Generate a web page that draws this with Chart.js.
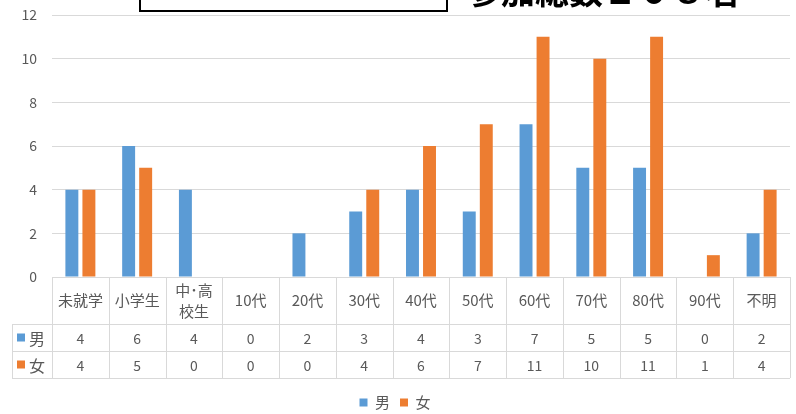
<!DOCTYPE html>
<html>
<head>
<meta charset="utf-8">
<script src="https://cdn.jsdelivr.net/npm/chart.js@4"></script>
<style>
html,body{margin:0;padding:0;background:#fff;}
#wrap{width:796px;height:414px;position:relative;}
</style>
</head>
<body>
<div id="wrap"><canvas id="c" width="796" height="414"></canvas></div>
<script>
const categories = ['未就学', '小学生', ['中･高', '校生'], '10代', '20代', '30代', '40代', '50代', '60代', '70代', '80代', '90代', '不明'];
const maleValues = [4, 6, 4, 0, 2, 3, 4, 3, 7, 5, 5, 0, 2];
const femaleValues = [4, 5, 0, 0, 0, 4, 6, 7, 11, 10, 11, 1, 4];
const seriesNames = ['男', '女'];
const yTickMin = 0, yTickMax = 12, yTickStep = 2;
const titleText = '参加総数１０８名';

const BLUE = '#5B9BD5', ORANGE = '#ED7D31', GRID = '#d9d9d9', TXT = '#595959';
const FONT = '"Noto Sans CJK JP", "Noto Sans", sans-serif';

const tablePlugin = {
  id: 'dataTable',
  afterDraw(chart) {
    const ctx = chart.ctx;
    const area = chart.chartArea;
    const xs = chart.scales.x;
    const n = categories.length;
    const colW = (area.right - area.left) / n;
    const top = area.bottom;
    const r1 = top + 47, r2 = r1 + 27, r3 = r2 + 27;
    const tableLeft = 12;
    ctx.save();
    ctx.strokeStyle = GRID;
    ctx.lineWidth = 1;
    ctx.beginPath();
    ctx.moveTo(area.left, top + 0.5); ctx.lineTo(area.right, top + 0.5);
    [r1, r2, r3].forEach(y => { ctx.moveTo(tableLeft, y + 0.5); ctx.lineTo(area.right, y + 0.5); });
    for (let i = 0; i <= n; i++) {
      const x = Math.round(area.left + i * colW) + 0.5;
      ctx.moveTo(x, top); ctx.lineTo(x, r3);
    }
    ctx.moveTo(tableLeft + 0.5, r1); ctx.lineTo(tableLeft + 0.5, r3);
    ctx.stroke();

    ctx.fillStyle = TXT;
    ctx.textAlign = 'center';
    ctx.textBaseline = 'middle';
    ctx.font = '15px ' + FONT;
    categories.forEach((c, i) => {
      const cx = xs.getPixelForValue(i);
      if (Array.isArray(c)) {
        ctx.fillText(c[0], cx, top + 13);
        ctx.fillText(c[1], cx, top + 34);
      } else {
        ctx.fillText(c, cx, top + 23.5);
      }
    });
    ctx.font = '14px ' + FONT;
    maleValues.forEach((v, i) => ctx.fillText(String(v), xs.getPixelForValue(i), (r1 + r2) / 2 + 1));
    femaleValues.forEach((v, i) => ctx.fillText(String(v), xs.getPixelForValue(i), (r2 + r3) / 2 + 1));
    // row keys
    ctx.fillStyle = BLUE; ctx.fillRect(17, (r1 + r2) / 2 - 4, 8, 8);
    ctx.fillStyle = ORANGE; ctx.fillRect(17, (r2 + r3) / 2 - 4, 8, 8);
    ctx.fillStyle = TXT;
    ctx.textAlign = 'left';
    ctx.font = '16px ' + FONT;
    ctx.fillText(seriesNames[0], 29, (r1 + r2) / 2 + 1);
    ctx.fillText(seriesNames[1], 29, (r2 + r3) / 2 + 1);

    // cut-off title area
    ctx.strokeStyle = '#000';
    ctx.lineWidth = 2;
    ctx.strokeRect(140, -40, 307, 51);
    ctx.fillStyle = '#000';
    ctx.font = 'bold 34px ' + FONT;
    ctx.textBaseline = 'ideographic';
    ctx.textAlign = 'left';
    ctx.fillText(titleText, 467, 8);
    ctx.restore();
  }
};

new Chart(document.getElementById('c'), {
  type: 'bar',
  data: {
    labels: categories,
    datasets: [
      { label: seriesNames[0], data: maleValues, backgroundColor: BLUE, categoryPercentage: 0.6, barPercentage: 0.76 },
      { label: seriesNames[1], data: femaleValues, backgroundColor: ORANGE, categoryPercentage: 0.6, barPercentage: 0.76 }
    ]
  },
  options: {
    responsive: false,
    animation: false,
    layout: { padding: { left: 0, right: 6, top: 15, bottom: -6 } },
    plugins: {
      legend: {
        position: 'bottom',
        labels: { boxWidth: 8, boxHeight: 8, color: TXT, font: { size: 15, family: FONT }, padding: 10 }
      },
      tooltip: { enabled: false }
    },
    scales: {
      x: {
        grid: { display: false },
        border: { display: false },
        ticks: { display: false },
        afterFit(s) { s.height = 108; }
      },
      y: {
        min: yTickMin, max: yTickMax,
        ticks: { stepSize: yTickStep, color: TXT, font: { size: 14, family: FONT }, padding: 5 },
        grid: { color: GRID, drawTicks: true, tickLength: 10, tickColor: 'rgba(0,0,0,0)' },
        border: { display: false },
        afterFit(s) { s.width = 52; }
      }
    }
  },
  plugins: [tablePlugin]
});
</script>
</body>
</html>
